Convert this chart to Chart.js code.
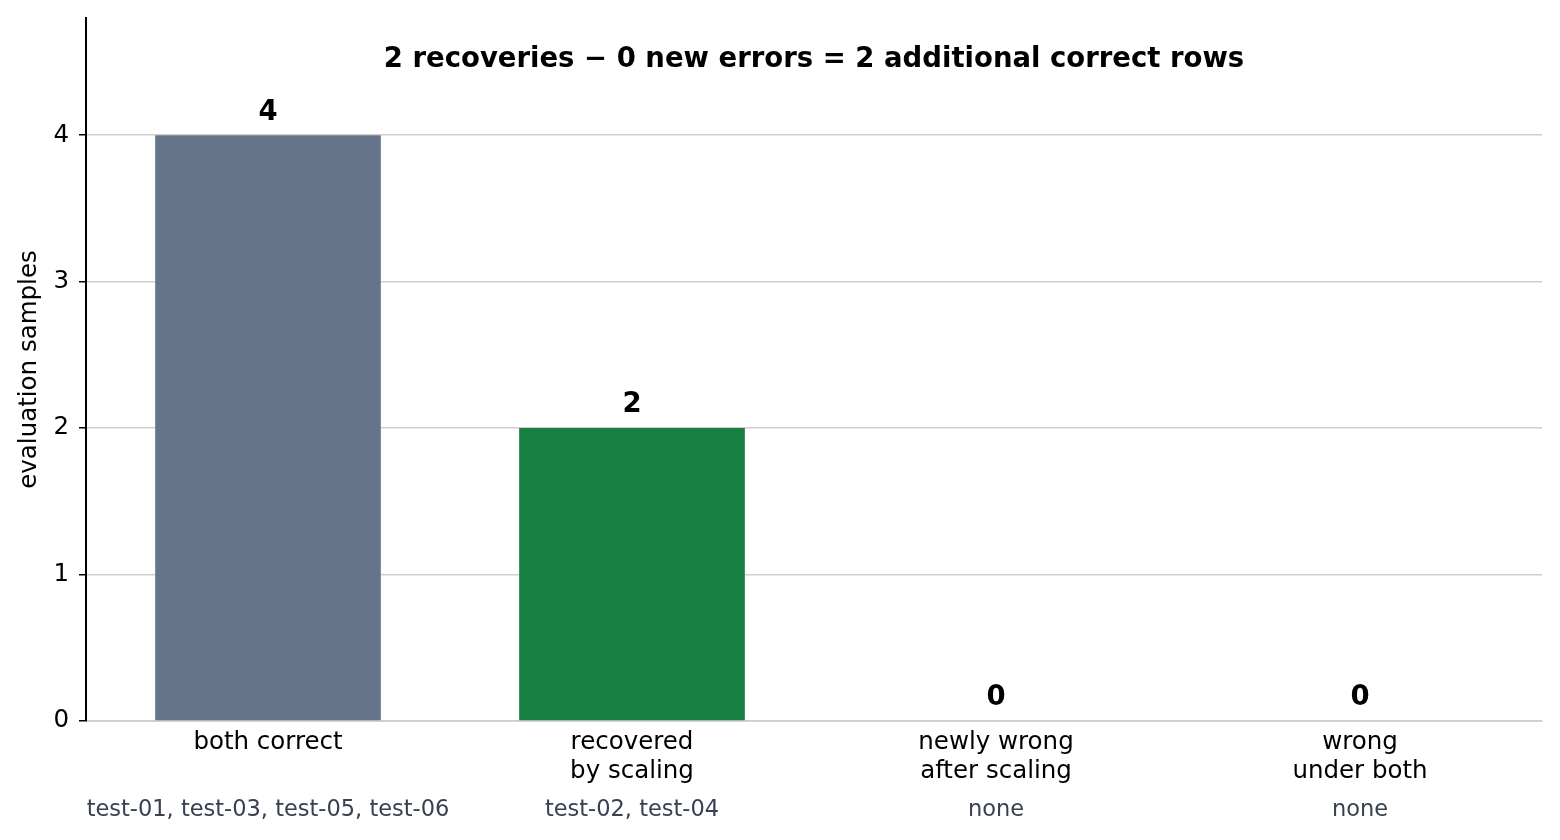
<!DOCTYPE html>
<html>
<head>
<meta charset="utf-8">
<script src="https://cdn.jsdelivr.net/npm/chart.js@4"></script>
<style>
  html, body { margin: 0; padding: 0; background: #fff; }
  #wrap { width: 1560px; height: 840px; position: relative; }
</style>
</head>
<body>
<div id="wrap"><canvas id="chart"></canvas></div>
<script>
// ---- Data ----
const categories = [
  ['both correct'],
  ['recovered', 'by scaling'],
  ['newly wrong', 'after scaling'],
  ['wrong', 'under both'],
];
const sampleCounts = [4, 2, 0, 0];
const sampleIds = ['test-01, test-03, test-05, test-06', 'test-02, test-04', 'none', 'none'];
const barColors = ['#64748b', '#178040', '#b91c1c', '#7f1d1d'];
const yTicks = [0, 1, 2, 3, 4];
const headline = '2 recoveries \u2212 0 new errors = 2 additional correct rows';

const FONT = "'DejaVu Sans', sans-serif";

// ---- Extra text: headline, value labels, sample ids ----
const annotations = {
  id: 'annotations',
  afterDatasetsDraw(chart) {
    const { ctx, chartArea, scales } = chart;
    const meta = chart.getDatasetMeta(0);
    ctx.save();
    ctx.fillStyle = '#000';
    ctx.textAlign = 'center';

    // headline inside the plot
    ctx.font = `bold 27.5px ${FONT}`;
    ctx.textBaseline = 'middle';
    ctx.fillText(headline, (chartArea.left + chartArea.right) / 2, 60);

    // value labels above bars
    ctx.font = `bold 27.5px ${FONT}`;
    ctx.textBaseline = 'bottom';
    meta.data.forEach((bar, i) => {
      ctx.fillText(String(sampleCounts[i]), bar.x, bar.y - 9);
    });

    // sample ids under category labels
    ctx.font = `22.5px ${FONT}`;
    ctx.fillStyle = '#374151';
    ctx.textBaseline = 'middle';
    sampleIds.forEach((txt, i) => {
      ctx.fillText(txt, scales.x.getPixelForValue(i), 810);
    });
    ctx.restore();
  },
};

new Chart(document.getElementById('chart').getContext('2d'), {
  type: 'bar',
  data: {
    labels: categories,
    datasets: [
      {
        data: sampleCounts,
        backgroundColor: barColors,
        borderWidth: 0,
        barPercentage: 0.62,
        categoryPercentage: 1,
      },
    ],
  },
  options: {
    responsive: true,
    maintainAspectRatio: false,
    animation: false,
    layout: { padding: { top: 18, right: 18, left: 0, bottom: 0 } },
    plugins: {
      legend: { display: false },
      tooltip: { enabled: false },
    },
    scales: {
      x: {
        grid: { display: false, drawTicks: false },
        border: { display: true, color: '#d4d4d4', width: 1 },
        ticks: {
          color: '#000',
          font: { family: FONT, size: 24.5, lineHeight: 1.15 },
          padding: 8,
          maxRotation: 0,
          autoSkip: false,
        },
        afterFit(scale) {
          scale.height = 119;
          scale.paddingLeft = 0;
          scale.paddingRight = 0;
        },
      },
      y: {
        min: 0,
        max: 4.8,
        afterBuildTicks(scale) {
          scale.ticks = yTicks.map((v) => ({ value: v }));
        },
        grid: {
          color: '#cfcfcf',
          lineWidth: 1.5,
          tickLength: 7,
          tickColor: '#000',
          tickWidth: 1.5,
        },
        border: { display: true, color: '#000', width: 2 },
        ticks: {
          color: '#000',
          font: { family: FONT, size: 24.5 },
          padding: 10,
        },
        title: {
          display: true,
          text: 'evaluation samples',
          color: '#000',
          font: { family: FONT, size: 24.5 },
          padding: { top: 15, bottom: 0 },
        },
        afterFit(scale) {
          scale.width = 86;
          scale.paddingTop = 0;
          scale.paddingBottom = 0;
        },
      },
    },
  },
  plugins: [annotations],
});
</script>
</body>
</html>
